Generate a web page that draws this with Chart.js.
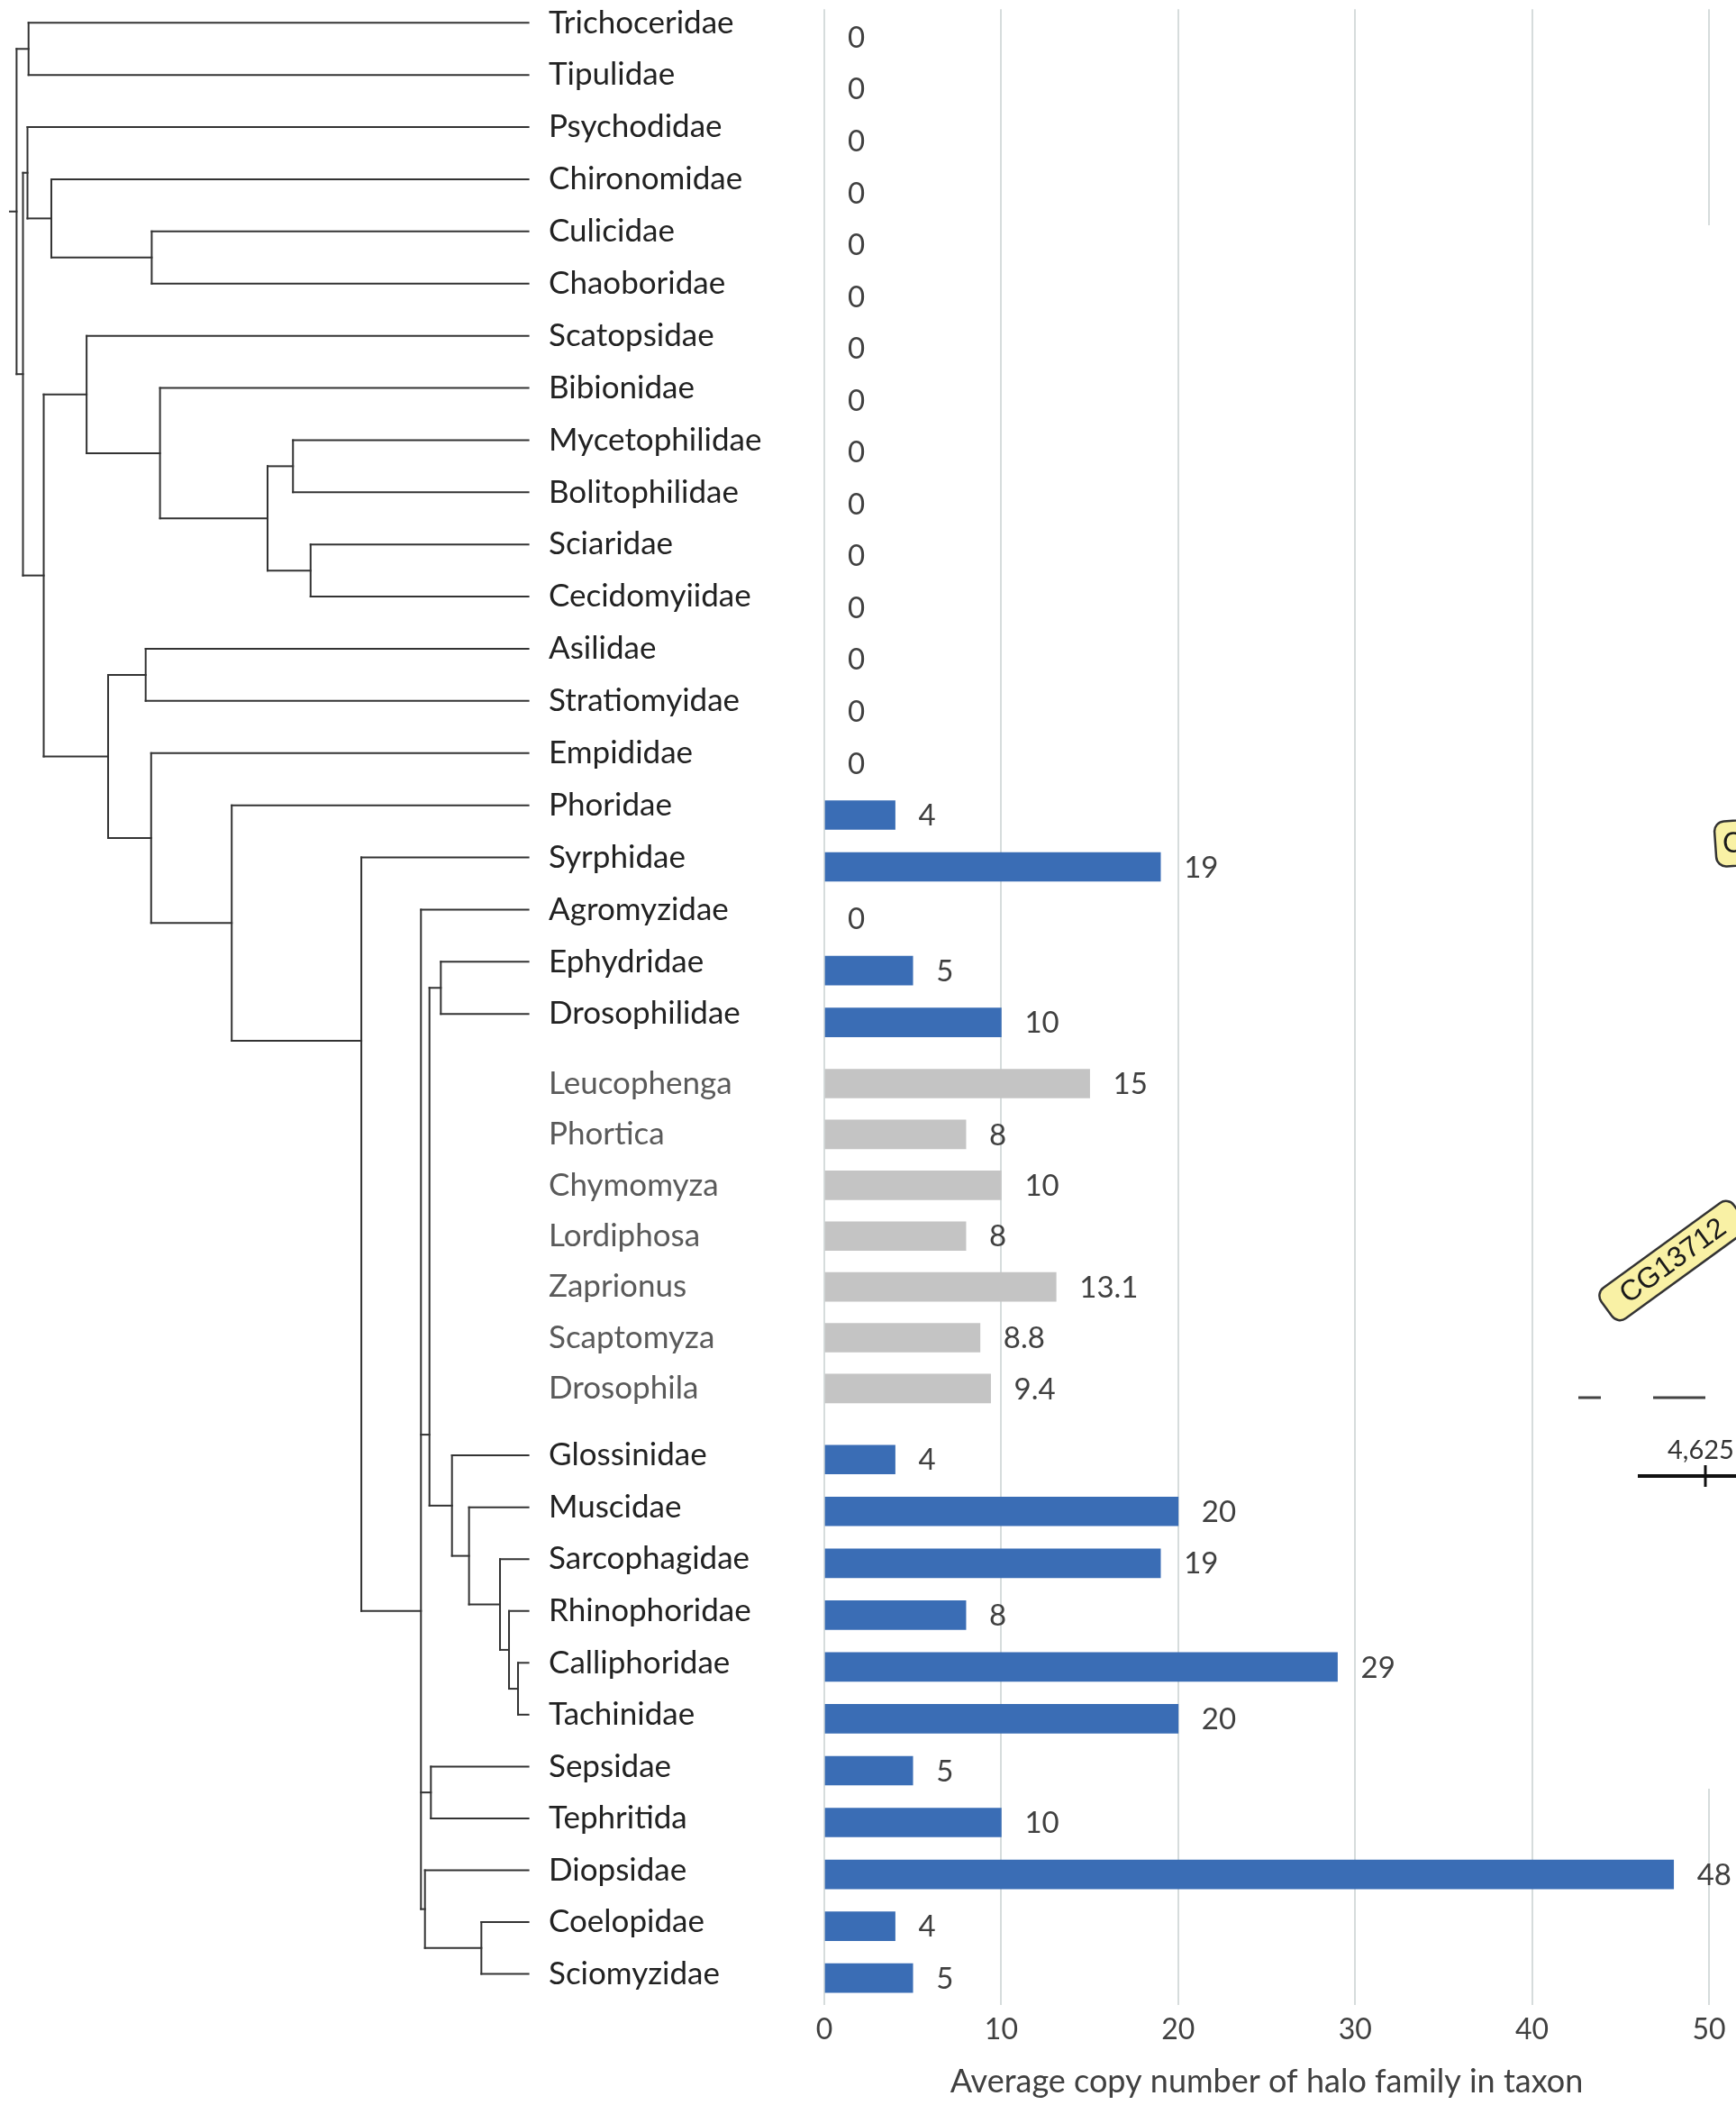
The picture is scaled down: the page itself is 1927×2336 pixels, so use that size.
<!DOCTYPE html>
<html>
<head>
<meta charset="utf-8">
<title>Halo family copy number across Diptera</title>
<script src="https://cdn.jsdelivr.net/npm/chart.js"></script>
<style>
  html, body { margin: 0; padding: 0; background: #ffffff; }
  #wrap { position: relative; width: 1927px; height: 2336px; overflow: hidden; background: #ffffff; }
  #wrap canvas { position: absolute; left: 0; top: 0; }
</style>
</head>
<body>
<div id="wrap">
  <canvas id="bars" width="1927" height="2336"></canvas>
  <canvas id="tree" width="600" height="2336"></canvas>
</div>
<script>
// ---- data -------------------------------------------------------------
const taxa = [
  'Trichoceridae', 'Tipulidae', 'Psychodidae', 'Chironomidae', 'Culicidae',
  'Chaoboridae', 'Scatopsidae', 'Bibionidae', 'Mycetophilidae', 'Bolitophilidae',
  'Sciaridae', 'Cecidomyiidae', 'Asilidae', 'Stratiomyidae', 'Empididae',
  'Phoridae', 'Syrphidae', 'Agromyzidae', 'Ephydridae', 'Drosophilidae',
  'Leucophenga', 'Phortica', 'Chymomyza', 'Lordiphosa', 'Zaprionus',
  'Scaptomyza', 'Drosophila',
  'Glossinidae', 'Muscidae', 'Sarcophagidae', 'Rhinophoridae', 'Calliphoridae',
  'Tachinidae', 'Sepsidae', 'Tephritida', 'Diopsidae', 'Coelopidae', 'Sciomyzidae'
];

// genera shown inside Drosophilidae (grey bars, grey labels)
const drosophilidGenera = [
  'Leucophenga', 'Phortica', 'Chymomyza', 'Lordiphosa', 'Zaprionus', 'Scaptomyza', 'Drosophila'
];

const copyNumber = [
  0, 0, 0, 0, 0,
  0, 0, 0, 0, 0,
  0, 0, 0, 0, 0,
  4, 19, 0, 5, 10,
  15, 8, 10, 8, 13.1,
  8.8, 9.4,
  4, 20, 19, 8, 29,
  20, 5, 10, 48, 4, 5
];

const axisTicks = [0, 10, 20, 30, 40, 50];
const axisTitle = 'Average copy number of halo family in taxon';

// Family tree: N(branch depth from root 0 to tips 1, children, optional join row)
function N(depth, kids, joinAt) { return { depth, kids, joinAt }; }
const tree = N(0, [
  N(0.0234, ['Trichoceridae', 'Tipulidae']),
  N(0.0125, [
    N(0.0213, ['Psychodidae',
      N(0.0679, ['Chironomidae',
        N(0.264, ['Culicidae', 'Chaoboridae'])])]),
    N(0.053, [
      N(0.1368, ['Scatopsidae',
        N(0.2802, ['Bibionidae',
          N(0.4903, [
            N(0.540, ['Mycetophilidae', 'Bolitophilidae']),
            N(0.5744, ['Sciaridae', 'Cecidomyiidae'])])])]),
      N(0.1788, [
        N(0.2522, ['Asilidae', 'Stratiomyidae']),
        N(0.2629, ['Empididae',
          N(0.4203, ['Phoridae',
            N(0.6735, ['Syrphidae',
              N(0.790, ['Agromyzidae',
                N(0.8066, [
                  N(0.8288, ['Ephydridae', 'Drosophilidae']),
                  N(0.8506, ['Glossinidae',
                    N(0.8839, ['Muscidae',
                      N(0.9444, ['Sarcophagidae',
                        N(0.962, ['Rhinophoridae',
                          N(0.9796, ['Calliphoridae', 'Tachinidae'])])])])])
                ], 26.95),
                N(0.8094, ['Sepsidae', 'Tephritida']),
                N(0.7978, ['Diopsidae',
                  N(0.908, ['Coelopidae', 'Sciomyzidae'])])
              ], 30.35)
            ], 19.354)])])
      ])
    ])
  ])
]);

// ---- row layout -------------------------------------------------------
const isGenus = t => drosophilidGenera.includes(t);
const barRows = [];
taxa.forEach((t, i) => {
  if (i === 0) { barRows.push(0); return; }
  const prev = isGenus(taxa[i - 1]), cur = isGenus(t);
  const step = prev === cur ? (cur ? 0.98 : 1) : (cur ? 1.18 : 1.37);
  barRows.push(barRows[i - 1] + step);
});
const firstGenus = taxa.findIndex(isGenus);
const labelRows = barRows.map((r, i) => {
  if (isGenus(taxa[i])) return r;
  return i < firstGenus ? r - 0.278 + 0.006 * i : r - 0.08;
});
const ROW_MIN = -0.539, ROW_MAX = 37.94;

const BLUE = '#3a6db5';
const GREY = '#c4c4c4';
const FONT = 'Lato';

// value labels to the right of each bar
const valueLabels = {
  id: 'valueLabels',
  afterDatasetsDraw(chart) {
    const c = chart.ctx;
    const meta = chart.getDatasetMeta(0);
    c.save();
    c.font = '33px ' + FONT;
    c.fillStyle = '#404040';
    c.textAlign = 'left';
    c.textBaseline = 'middle';
    meta.data.forEach((bar, i) => {
      c.fillText(String(copyNumber[i]), bar.x + 26, bar.y + 1);
    });
    c.restore();
  }
};

// pieces of the neighbouring gene-map panel that overlap the right edge
function roundRect(c, x, y, w, h, r) {
  c.beginPath();
  c.moveTo(x + r, y);
  c.arcTo(x + w, y, x + w, y + h, r);
  c.arcTo(x + w, y + h, x, y + h, r);
  c.arcTo(x, y + h, x, y, r);
  c.arcTo(x, y, x + w, y, r);
  c.closePath();
}
function geneTag(c, cx, cy, angleDeg, w, h, text, textDx) {
  c.save();
  c.translate(cx, cy);
  c.rotate(angleDeg * Math.PI / 180);
  roundRect(c, -w / 2, -h / 2, w, h, 11);
  c.fillStyle = '#f9f1a5';
  c.fill();
  c.lineWidth = 2.5;
  c.strokeStyle = '#333333';
  c.stroke();
  c.fillStyle = '#1a1a1a';
  c.font = '32px "Liberation Sans"';
  c.textBaseline = 'middle';
  c.textAlign = textDx === undefined ? 'center' : 'left';
  c.fillText(text, textDx === undefined ? 0 : textDx, 1);
  c.restore();
}
const insetPanel = {
  id: 'insetPanel',
  afterDraw(chart) {
    const c = chart.ctx;
    c.save();
    c.fillStyle = '#ffffff';
    c.fillRect(1886, 250, 41, 1735);
    geneTag(c, 1950, 934, -4, 92, 50, 'CG', -38);
    geneTag(c, 1857, 1399, -36, 182, 42, 'CG13712');
    c.strokeStyle = '#444444';
    c.lineWidth = 3;
    c.beginPath();
    c.moveTo(1752, 1551); c.lineTo(1777, 1551);
    c.moveTo(1835, 1551); c.lineTo(1893, 1551);
    c.stroke();
    c.fillStyle = '#333333';
    c.font = '29px ' + FONT;
    c.textAlign = 'left';
    c.textBaseline = 'middle';
    c.fillText('4,625', 1851, 1610);
    c.strokeStyle = '#111111';
    c.lineWidth = 4;
    c.beginPath();
    c.moveTo(1818, 1638); c.lineTo(1927, 1638);
    c.stroke();
    c.lineWidth = 3;
    c.beginPath();
    c.moveTo(1893, 1626); c.lineTo(1893, 1650);
    c.stroke();
    c.restore();
  }
};

// ---- bar chart with taxon labels -------------------------------------
const barChart = new Chart(document.getElementById('bars'), {
  type: 'bar',
  data: {
    datasets: [{
      data: taxa.map((t, i) => ({ x: copyNumber[i], y: barRows[i] })),
      // empty (zero) bars get no fill so the axis line stays grey
      backgroundColor: taxa.map((t, i) => copyNumber[i] === 0 ? 'rgba(0,0,0,0)' : (isGenus(t) ? GREY : BLUE)),
      borderWidth: 0,
      barThickness: 32,
      xAxisID: 'x',
      yAxisID: 'y'
    }]
  },
  options: {
    indexAxis: 'y',
    responsive: false,
    animation: false,
    devicePixelRatio: 1,
    events: [],
    layout: { padding: { left: 609, right: 30, top: 10.3, bottom: 0 } },
    plugins: { legend: { display: false }, tooltip: { enabled: false } },
    scales: {
      x: {
        type: 'linear',
        position: 'bottom',
        min: axisTicks[0],
        max: axisTicks[axisTicks.length - 1],
        ticks: {
          stepSize: axisTicks[1] - axisTicks[0],
          color: '#404040',
          font: { family: FONT, size: 32 },
          padding: 9
        },
        grid: { color: '#d6dcdc', lineWidth: 2, drawTicks: false },
        border: { display: false },
        title: {
          display: true,
          text: axisTitle,
          color: '#404040',
          font: { family: FONT, size: 36 },
          padding: { top: 0, bottom: 4 }
        },
        afterFit(scale) { scale.height = 111.5; }
      },
      y: {
        type: 'linear',
        display: false,
        offset: false,
        grid: { offset: false },
        min: ROW_MIN,
        max: ROW_MAX,
        reverse: true
      },
      taxa: {
        axis: 'y',
        type: 'linear',
        position: 'left',
        offset: false,
        min: ROW_MIN,
        max: ROW_MAX,
        reverse: true,
        afterBuildTicks(scale) { scale.ticks = labelRows.map(v => ({ value: v })); },
        ticks: {
          autoSkip: false,
          crossAlign: 'far',
          padding: 0,
          font: { family: FONT, size: 35 },
          color: ctx => isGenus(taxa[ctx.index]) ? '#5a5a5a' : '#222222',
          callback: (value, index) => taxa[index]
        },
        grid: { display: false, offset: false },
        border: { display: false },
        afterFit(scale) {
          scale.width = 306;
          scale.paddingTop = 0;
          scale.paddingBottom = 0;
        }
      }
    }
  },
  plugins: [valueLabels, insetPanel]
});

// ---- dendrogram -------------------------------------------------------
const segments = [];
function place(node) {
  if (typeof node === 'string') return labelRows[taxa.indexOf(node)];
  const ys = node.kids.map(place);
  node.kids.forEach((k, j) => {
    segments.push([[node.depth, ys[j]], [typeof k === 'string' ? 1 : k.depth, ys[j]]]);
  });
  const lo = Math.min(...ys), hi = Math.max(...ys);
  segments.push([[node.depth, lo], [node.depth, hi]]);
  return node.joinAt !== undefined ? node.joinAt : (lo + hi) / 2;
}
const rootRow = place(tree);
segments.push([[-0.013, rootRow], [tree.depth, rootRow]]);

const area = barChart.chartArea;
new Chart(document.getElementById('tree'), {
  type: 'scatter',
  data: {
    datasets: segments.map(s => ({
      data: s.map(([x, y]) => ({ x, y })),
      showLine: true,
      borderColor: '#333333',
      borderWidth: 2,
      borderCapStyle: 'square',
      pointRadius: 0,
      clip: false
    }))
  },
  options: {
    responsive: false,
    animation: false,
    devicePixelRatio: 1,
    events: [],
    layout: { padding: { left: 18.4, right: 13.4, top: area.top, bottom: 2336 - area.bottom } },
    plugins: { legend: { display: false }, tooltip: { enabled: false } },
    scales: {
      x: { type: 'linear', display: false, min: 0, max: 1 },
      y: { type: 'linear', display: false, min: ROW_MIN, max: ROW_MAX, reverse: true }
    }
  }
});
</script>
</body>
</html>
